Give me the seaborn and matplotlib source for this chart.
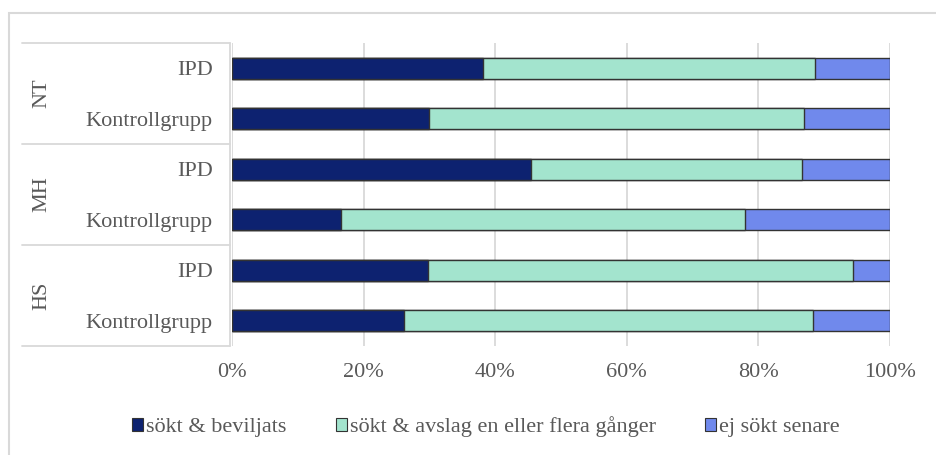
import pandas as pd
import matplotlib.pyplot as plt
import seaborn as sns
from matplotlib.patches import Rectangle, Patch

# data (andel i procent)
groups = ["NT", "MH", "HS"]
subgroups = ["IPD", "Kontrollgrupp"]
series_names = ["sökt & beviljats", "sökt & avslag en eller flera gånger", "ej sökt senare"]
beviljats = [38.2, 30.0, 45.4, 16.5, 29.8, 26.1]
avslag = [50.4, 57.0, 41.3, 61.4, 64.6, 62.2]
ej_sokt = [11.4, 13.0, 13.3, 22.1, 5.6, 11.7]
colors = ["#0D2270", "#A3E4CE", "#7089EC"]
x_ticks = [0, 20, 40, 60, 80, 100]

rows = [f"{g} {s}" for g in groups for s in subgroups]
df = pd.DataFrame({"row": rows, "b": beviljats, "a": avslag, "e": ej_sokt})
df["c1"] = df["b"]
df["c2"] = df["b"] + df["a"]
df["c3"] = df["b"] + df["a"] + df["e"]

sns.set_theme(style="white")
plt.rcParams["font.family"] = ["Liberation Serif", "DejaVu Serif"]
text_color = "#595959"
line_color = "#D9D9D9"
fs = 16

fig = plt.figure(figsize=(9.36, 4.55), dpi=100)
ax = fig.add_axes([232 / 936, 1 - 346 / 455, 658 / 936, 303 / 455])

# stacked bars drawn as cumulative layers
for col, c in zip(["c3", "c2", "c1"], colors[::-1]):
    sns.barplot(data=df, x=col, y="row", color=c, orient="h", width=0.42,
                edgecolor="#333333", linewidth=1.0, ax=ax, saturation=1)

ax.set_xlim(0, 100)
ax.set_ylim(5.5, -0.5)
ax.set_xticks(x_ticks)
ax.set_xticklabels([f"{v}%" for v in x_ticks])
ax.set_yticks(range(len(rows)))
ax.set_yticklabels(subgroups * len(groups))
ax.set_xlabel("")
ax.set_ylabel("")
ax.tick_params(axis="x", length=0, pad=12, labelsize=fs, colors=text_color)
ax.tick_params(axis="y", length=0, pad=14, labelsize=fs, colors=text_color)
for s in ax.spines.values():
    s.set_visible(False)
ax.set_axisbelow(True)
ax.xaxis.grid(True, color=line_color, linewidth=1.3)

# group label table on the left
tr = ax.get_yaxis_transform()
x_left = (22 - 232) / 658
x_right = (230 - 232) / 658
for yb in [-0.5, 1.5, 3.5, 5.5]:
    ax.plot([x_left, x_right], [yb, yb], transform=tr, color=line_color,
            linewidth=1.3, clip_on=False)
ax.plot([x_right, x_right], [-0.5, 5.5], transform=tr, color=line_color,
        linewidth=1.3, clip_on=False)
for i, g in enumerate(groups):
    ax.text((42 - 232) / 658, 2 * i + 0.5, g, transform=tr, rotation=90,
            ha="center", va="center", fontsize=fs, color=text_color)

# legend
handles = [Patch(facecolor=c, edgecolor="#333333", linewidth=0.8) for c in colors]
fig.legend(handles, series_names, loc="center", bbox_to_anchor=(486 / 936, 1 - 427 / 455),
           ncol=3, frameon=False, fontsize=fs, labelcolor=text_color,
           handlelength=0.5, handleheight=0.5, handletextpad=0.15, columnspacing=2.2)

# outer chart border
fig.patches.append(Rectangle((9 / 936, -0.1), 1.2, 1 - 13 / 455 + 0.1, transform=fig.transFigure,
                             fill=False, edgecolor=line_color, linewidth=1.5))

fig.savefig("out.png", dpi=100)
